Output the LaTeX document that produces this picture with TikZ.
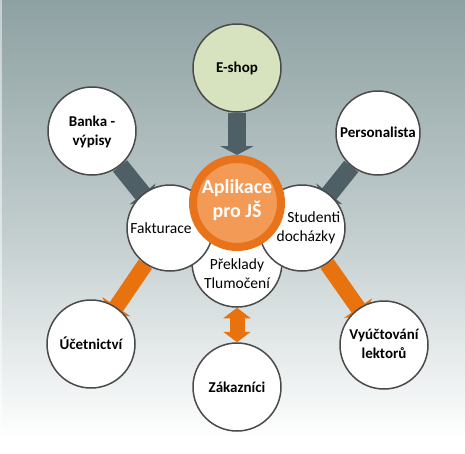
\documentclass[tikz,border=0pt]{standalone}
\usepackage{fontspec}
\setmainfont{Carlito}
\usetikzlibrary{arrows.meta}
\definecolor{bgtop}{RGB}{142,161,162}
\definecolor{bgmid}{RGB}{193,204,205}
\definecolor{ringor}{HTML}{E8731A}
\definecolor{innor}{HTML}{F29A56}
\definecolor{arror}{HTML}{E8720E}
\definecolor{arrdk}{HTML}{4E5F66}
\definecolor{edge}{HTML}{4A4A4A}
\definecolor{eshopfill}{HTML}{D7E2BE}
\pgfdeclareverticalshading{bgshade}{100bp}{color(0bp)=(white); color(26.5bp)=(white); color(50bp)=(bgmid); color(75bp)=(bgtop); color(100bp)=(bgtop)}
\pgfdeclarelayer{backdrop}
\pgfdeclarelayer{arrowlayer}
\pgfsetlayers{backdrop,arrowlayer,main}
\tikzset{
  bubble/.style={circle, draw=edge, line width=1.5pt, fill=white, minimum size=88pt, inner sep=0pt},
  boldtxt/.style={font=\fontsize{15}{19}\selectfont\bfseries, align=center, text=black},
  plaintxt/.style={font=\fontsize{15.5}{19}\selectfont, align=center, text=black},
  darkarrow/.style={draw=arrdk, line width=18pt, -{Triangle[width=0pt 1.85, length=0pt 0.5]}},
  orangearrow/.style={draw=arror, line width=16pt, -{Triangle[width=0pt 2.1, length=0pt 0.65]}},
  doublearrow/.style={draw=arror, line width=15pt, {Triangle[width=0pt 1.8, length=0pt 0.7]}-{Triangle[width=0pt 1.8, length=0pt 0.7]}}
}
\begin{document}
\begin{tikzpicture}[x=1pt,y=-1pt]
\useasboundingbox (0,0) rectangle (465,453);
\begin{pgfonlayer}{backdrop}
  \shade[shading=bgshade] (0,0) rectangle (465,453);
  \fill[white, opacity=0.5] (0,0) rectangle (2,453);
\end{pgfonlayer}
% satellites
\node[bubble, fill=eshopfill] (eshop) at (237,68) {};
\node[bubble] (banka) at (92,131) {};
\node[bubble, minimum size=84pt] (pers) at (378,133) {};
\node[bubble] (ucet) at (91,344) {};
\node[bubble] (zak) at (237,387) {};
\node[bubble] (vyuc) at (384,345) {};
% inner ring
\node[bubble, minimum size=90pt] (prek) at (237,262) {};
\node[bubble, minimum size=86pt] (fakt) at (170,228) {};
\node[bubble, minimum size=86pt] (stud) at (302,228) {};
\node[circle, draw=ringor, line width=8pt, fill=innor, minimum size=88pt, inner sep=0pt] (app) at (237,203) {};
% texts
\node[boldtxt] (teshop) at (237,68) {E-shop};
\node[boldtxt] (tbanka) at (92,132) {Banka -\\výpisy};
\node[boldtxt] (tpers) at (378,132) {Personalista};
\node[boldtxt] (tucet) at (91,343) {Účetnictví};
\node[boldtxt] (tzak) at (237,387) {Zákazníci};
\node[boldtxt] (tvyuc) at (384,344) {Vyúčtování\\lektorů};
\node[plaintxt] (tfakt) at (161,228) {Fakturace};
\node[plaintxt] (tstud) at (306,228) {\hspace*{1em}Studenti\\docházky};
\node[plaintxt] (tprek) at (237,274) {Překlady\\Tlumočení};
\node[font=\fontsize{20}{24}\selectfont\bfseries, text=white, align=center] (tapp) at (237,200) {Aplikace\\pro JŠ};
% arrows
\begin{pgfonlayer}{arrowlayer}
  \draw[darkarrow] (eshop) -- (app);
  \draw[darkarrow, shorten >=-9pt] (banka) -- (fakt);
  \draw[darkarrow, shorten >=-9pt] (pers) -- (stud);
  \draw[orangearrow, shorten >=-10pt] (fakt) -- (ucet);
  \draw[orangearrow, shorten >=-10pt] (stud) -- (vyuc);
  \draw[doublearrow] (prek) -- (zak);
\end{pgfonlayer}
\end{tikzpicture}
\end{document}
